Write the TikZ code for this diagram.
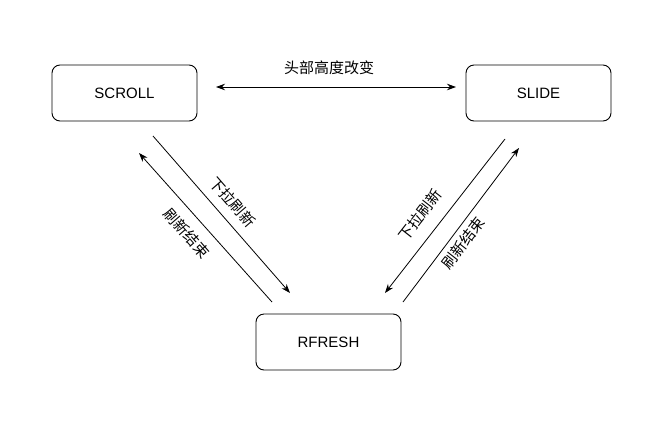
\documentclass[tikz,border=0pt]{standalone}
\usepackage{fontspec}
\setmainfont{Liberation Sans}
\newfontfamily\cjk{Noto Sans CJK SC}
\usetikzlibrary{arrows.meta}
\tikzset{
  statebox/.style={draw=black, line width=0.9pt, rounded corners=8pt, minimum width=145pt, minimum height=56pt, inner sep=0pt, font=\fontsize{15}{18}\selectfont},
  conn/.style={line width=0.8pt, -{Stealth[length=9pt,width=6.5pt]}},
  biconn/.style={line width=0.8pt, {Stealth[length=9pt,width=6.5pt]}-{Stealth[length=9pt,width=6.5pt]}},
  lbl/.style={font=\cjk\fontsize{15}{18}\selectfont, inner sep=0pt}
}
\begin{document}
\begin{tikzpicture}[x=1pt,y=-1pt]
\useasboundingbox (0,0) rectangle (664,421);
\node[statebox] (scroll) at (124.5,93) {SCROLL};
\node[statebox] (slide) at (538.5,93) {SLIDE};
\node[statebox] (rfresh) at (328.5,342) {RFRESH};

\coordinate (h1) at (216,87);
\coordinate (h2) at (456,87);
\draw[biconn] (h1) -- (h2);
\node[lbl] (lh) at (329,68) {头部高度改变};

\coordinate (l1s) at (153,136);
\coordinate (l1e) at (290,293);
\draw[conn] (l1s) -- (l1e);
\node[lbl, rotate=-49] (ll1) at (233,202) {下拉刷新};

\coordinate (l2s) at (272,302);
\coordinate (l2e) at (139,153);
\draw[conn] (l2s) -- (l2e);
\node[lbl, rotate=-49] (ll2) at (187,233) {刷新结束};

\coordinate (r1s) at (505,139);
\coordinate (r1e) at (385,293);
\draw[conn] (r1s) -- (r1e);
\node[lbl, rotate=52] (rl1) at (420,215) {下拉刷新};

\coordinate (r2s) at (403,302);
\coordinate (r2e) at (519,148);
\draw[conn] (r2s) -- (r2e);
\node[lbl, rotate=52] (rl2) at (463,243) {刷新结束};
\end{tikzpicture}
\end{document}
